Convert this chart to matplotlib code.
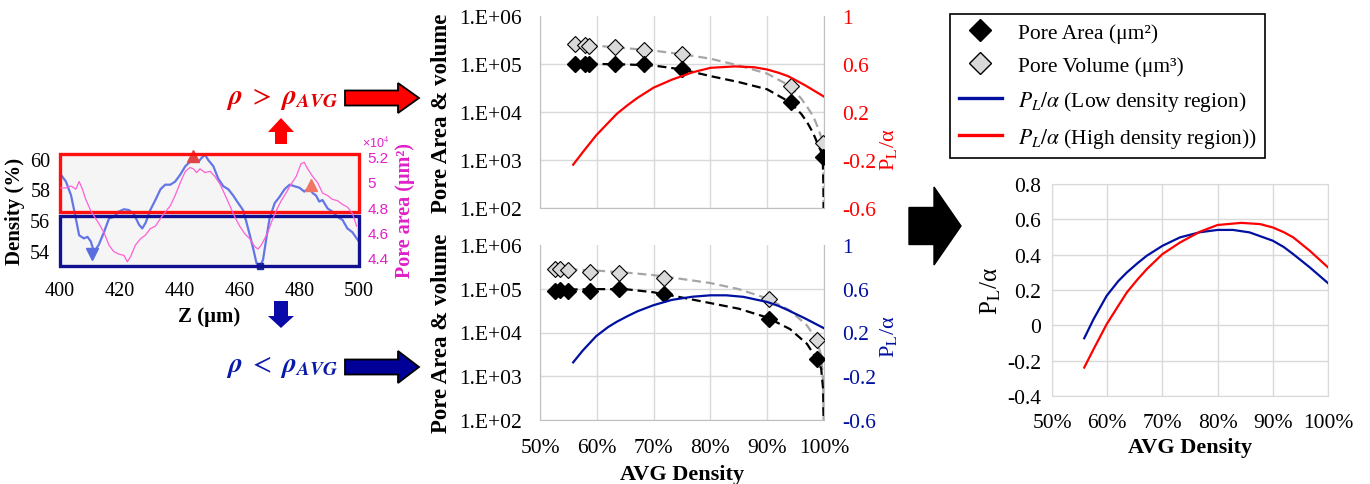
import numpy as np
import matplotlib
matplotlib.use('Agg')
import matplotlib.pyplot as plt
from matplotlib.lines import Line2D
from matplotlib.patches import Rectangle, Polygon
from matplotlib.ticker import NullLocator
from matplotlib.transforms import blended_transform_factory

plt.rc('font', family='Liberation Serif', size=15)
plt.rc('mathtext', fontset='stix')

# ---------------- data ----------------
# left panel: density (%) and pore area (x1e4 um^2) along Z (um)
density_trace = [(400.3, 58.95), (402, 58.5), (403.7, 57.6), (405.3, 56.1), (406.4, 55.0),
                 (408, 54.8), (409.2, 54.9), (410.3, 54.6), (411.4, 53.9), (413, 54.4),
                 (414.7, 55.2), (416.4, 56.1), (418, 56.2), (419.7, 56.55), (421.4, 56.7),
                 (423, 56.65), (424.7, 56.4), (426.4, 55.7), (427.5, 55.45), (428.6, 55.8),
                 (430.2, 56.65), (431.9, 57.3), (433.6, 58.0), (435.2, 58.3), (436.9, 58.3),
                 (438.5, 58.5), (440.2, 58.95), (441.9, 59.5), (443.5, 59.8), (445.2, 60.05),
                 (446.3, 59.8), (447.4, 60.05), (448.5, 60.25), (449.6, 59.9), (451.3, 59.5),
                 (452.9, 58.7), (454.6, 58.2), (456.3, 58.0), (457.9, 57.6), (459.6, 57.1),
                 (461.2, 56.65), (462.3, 55.9), (463.5, 55.0), (464.6, 54.15), (465.7, 53.2),
                 (466.8, 52.95), (467.9, 53.4), (469, 54.8), (470.1, 56.1), (471.8, 57.1),
                 (473.4, 57.5), (475.1, 58.0), (476.8, 58.3), (478.4, 58.2), (480.1, 58.1),
                 (481.7, 57.85), (483.4, 58.1), (484.5, 57.75), (485.6, 57.6), (486.7, 57.2),
                 (487.8, 57.3), (489.5, 56.75), (491.1, 56.55), (492.8, 56.2), (494.5, 56.0),
                 (496.1, 55.45), (497.8, 55.2), (499.2, 54.8), (500, 54.6)]
pore_trace = [(400.3, 4.95), (402, 4.95), (403.7, 4.965), (405.3, 4.94), (406.4, 5.0),
              (407.5, 4.94), (408.6, 4.86), (410.3, 4.77), (411.9, 4.71), (413, 4.67),
              (414.7, 4.60), (416.4, 4.50), (418, 4.45), (419.7, 4.43), (421.4, 4.42),
              (422.5, 4.37), (423.6, 4.41), (425.2, 4.50), (426.9, 4.55), (428.6, 4.58),
              (430.2, 4.63), (431.9, 4.65), (433.6, 4.71), (435.2, 4.76), (436.9, 4.81),
              (438.5, 4.89), (440.2, 4.99), (441.9, 5.08), (443.5, 5.11), (444.6, 5.10),
              (445.7, 5.07), (446.8, 5.10), (448.5, 5.07), (450.2, 5.08), (451.8, 5.04),
              (453.5, 4.98), (455.1, 4.90), (456.8, 4.81), (458.5, 4.72), (460.1, 4.65),
              (461.8, 4.59), (463.5, 4.55), (465.1, 4.49), (466.2, 4.47), (467.3, 4.50),
              (468.4, 4.55), (469.5, 4.60), (470.7, 4.68), (472.3, 4.77), (474, 4.85),
              (475.6, 4.91), (477.3, 4.98), (479, 5.04), (480.6, 5.14), (481.7, 5.15),
              (482.8, 5.10), (484.5, 5.04), (486.2, 4.99), (487.8, 4.91), (489.5, 4.89),
              (491.1, 4.86), (492.8, 4.85), (494.5, 4.82), (496.1, 4.80), (497.8, 4.75),
              (499.2, 4.65)]
peak_main = (444.5, 60.2)
peak_second = (484.0, 58.3)
valley_main = (410.8, 53.8)
valley_min = (466.8, 53.0)
high_band = (56.5, 60.3)   # rho > rho_avg box
low_band = (53.0, 56.25)   # rho < rho_avg box

# middle panels: AVG density vs pore area / volume
hi_x = [0.5616, 0.5795, 0.5855, 0.632, 0.683, 0.7494, 0.942, 0.9977]
hi_area = [98000, 100000, 100000, 100000, 100000, 77000, 16000, 1150]
hi_vol = [260000, 250000, 240000, 225000, 200000, 160000, 35000, 2300]
hi_fit_x = [0.5616, 0.60, 0.65, 0.70, 0.75, 0.80, 0.85, 0.90, 0.94, 0.96, 0.97, 0.98,
            0.985, 0.99, 0.995, 0.9977, 0.9990, 0.9996]
hi_area_fit = [1.0e5, 1.0e5, 9.8e4, 9.3e4, 7.7e4, 5.6e4, 4.2e4, 2.97e4, 1.6e4, 9.1e3,
               6.2e3, 3.8e3, 2.8e3, 2.0e3, 1.5e3, 1.15e3, 3e2, 50]
hi_vol_fit = [2.6e5, 2.4e5, 2.14e5, 1.9e5, 1.6e5, 1.29e5, 9.3e4, 6.3e4, 3.5e4, 1.9e4,
              1.3e4, 8.5e3, 6.3e3, 4.5e3, 3.0e3, 2.3e3, 9e2, 50]

lo_x = [0.5264, 0.5352, 0.5499, 0.588, 0.6397, 0.7189, 0.9032, 0.987]
lo_area = [90000, 95000, 90000, 90000, 98000, 76000, 20500, 2500]
lo_vol = [290000, 280000, 270000, 245000, 235000, 180000, 59000, 6900]
lo_fit_x = [0.5264, 0.60, 0.65, 0.70, 0.75, 0.80, 0.85, 0.90, 0.94, 0.97, 0.987, 0.995,
            0.9985, 0.9995]
lo_area_fit = [9.5e4, 9.8e4, 9.8e4, 8.3e4, 6.3e4, 4.7e4, 3.5e4, 2.2e4, 1.2e4, 5.5e3,
               2.5e3, 1.5e3, 5e2, 50]
lo_vol_fit = [2.9e5, 2.6e5, 2.35e5, 2.05e5, 1.67e5, 1.35e5, 9.8e4, 6.0e4, 3.2e4, 1.45e4,
              6.9e3, 3.0e3, 8e2, 50]

# P_L / alpha curves
pl_high_x = [0.5584, 0.5753, 0.599, 0.62, 0.6355, 0.655, 0.6717, 0.70, 0.732, 0.768, 0.80,
             0.843, 0.877, 0.90, 0.92, 0.937, 0.967, 1.0]
pl_high = [-0.239, -0.135, 0.006, 0.11, 0.186, 0.26, 0.318, 0.403, 0.469, 0.53, 0.568,
           0.58, 0.573, 0.554, 0.527, 0.498, 0.422, 0.328]
pl_low_x = [0.5584, 0.5753, 0.599, 0.62, 0.6355, 0.655, 0.6717, 0.70, 0.732, 0.768, 0.80,
            0.828, 0.858, 0.90, 0.92, 0.937, 0.967, 1.0]
pl_low = [-0.073, 0.035, 0.167, 0.25, 0.299, 0.352, 0.394, 0.45, 0.498, 0.527, 0.54,
          0.54, 0.526, 0.479, 0.443, 0.403, 0.328, 0.239]

log_ticks = [1e2, 1e3, 1e4, 1e5, 1e6]
log_labels = ['1.E+02', '1.E+03', '1.E+04', '1.E+05', '1.E+06']
pl_ticks = [-0.6, -0.2, 0.2, 0.6, 1.0]
pl_labels = ['-0.6', '-0.2', '0.2', '0.6', '1']
pct_ticks = [0.5, 0.6, 0.7, 0.8, 0.9, 1.0]
pct_labels = ['50%', '60%', '70%', '80%', '90%', '100%']
right_ticks = [-0.4, -0.2, 0.0, 0.2, 0.4, 0.6, 0.8]
right_labels = ['-0.4', '-0.2', '0', '0.2', '0.4', '0.6', '0.8']

RED = '#ff0000'
BLUE = '#0010a0'
MAGENTA = '#e020c8'
GRID = '#d9d9d9'

W, H = 1370, 485
fig = plt.figure(figsize=(W / 100, H / 100), dpi=100)


def px_axes(x0, y0, x1, y1):
    return fig.add_axes([x0 / W, 1 - y1 / H, (x1 - x0) / W, (y1 - y0) / H])


# ---------------- left panel ----------------
ax0 = px_axes(60, 155, 359, 267)
ax0.set_facecolor('#f5f5f5')
zd, dd = np.array(density_trace).T
ax0.plot(zd, dd, color='#5468e6', lw=1.6, alpha=0.9)
ax0.plot(*peak_main, marker='^', color='#e04545', ms=9, clip_on=False)
ax0.plot(*peak_second, marker='^', color='#f07565', ms=9)
ax0.plot(*valley_main, marker='v', color='#5a6ee0', ms=9, clip_on=False)
ax0.plot(*valley_min, marker='s', color='#1a2a99', ms=5, clip_on=False)
ax0.set_xlim(400, 500)
ax0.set_ylim(53.0, 60.3)
ax0.set_xticks([400, 420, 440, 460, 480, 500])
ax0.set_yticks([54, 56, 58, 60])
ax0.tick_params(length=0, labelsize=14.5)
ax0.tick_params(axis='x', pad=11)
ax0.tick_params(axis='y', pad=7)
for s in ax0.spines.values():
    s.set_visible(False)
ax0.set_xlabel('Z (μm)', fontweight='bold', fontsize=15, labelpad=4)
ax0.set_ylabel('Density (%)', fontweight='bold', fontsize=15, labelpad=4)

ax0r = ax0.twinx()
zp, pp = np.array(pore_trace).T
ax0r.plot(zp, pp, color='#ff5fd5', lw=0.9)
ax0r.set_ylim(4.337, 5.216)
ax0r.set_yticks([4.4, 4.6, 4.8, 5.0, 5.2])
ax0r.set_yticklabels(['4.4', '4.6', '4.8', '5', '5.2'], family='Liberation Sans',
                     fontsize=11, color=MAGENTA)
ax0r.tick_params(length=0, pad=6)
for s in ax0r.spines.values():
    s.set_visible(False)
ax0r.set_ylabel('Pore area (μm²)', fontweight='bold', fontsize=14.5, color=MAGENTA,
                labelpad=5)
ax0r.text(1.01, 1.04, r'×10$^{4}$', transform=ax0r.transAxes, color=MAGENTA,
          family='Liberation Sans', fontsize=9, va='bottom', ha='left')

bt = blended_transform_factory(ax0.transAxes, ax0.transData)
ax0r.add_patch(Rectangle((0, high_band[0]), 1, high_band[1] - high_band[0], transform=bt,
                         fill=False, edgecolor='#ff1010', lw=2.4, clip_on=False))
ax0r.add_patch(Rectangle((0, low_band[0]), 1, low_band[1] - low_band[0], transform=bt,
                         fill=False, edgecolor='#101090', lw=2.4, clip_on=False))


# ---------------- middle panels ----------------
def pore_panel(ax, x, area, vol, fit_x, area_fit, vol_fit, pl_x, pl, color, show_x):
    ax.set_yscale('log')
    ax.plot(fit_x, vol_fit, ls=(0, (4, 2.2)), color='#a6a6a6', lw=1.6, zorder=2)
    ax.plot(fit_x, area_fit, ls=(0, (4, 2.2)), color='black', lw=1.6, zorder=2)
    ax.plot(x, vol, ls='none', marker='D', ms=8, mfc='#d9d9d9', mec='black', mew=0.8,
            zorder=3)
    ax.plot(x, area, ls='none', marker='D', ms=8, mfc='black', mec='black', zorder=3)
    ax.set_xlim(0.5, 1.0)
    ax.set_ylim(1e2, 1e6)
    ax.yaxis.set_minor_locator(NullLocator())
    ax.set_yticks(log_ticks)
    ax.set_yticklabels(log_labels)
    ax.set_xticks(pct_ticks)
    if show_x:
        ax.set_xticklabels(pct_labels)
        ax.set_xlabel('AVG Density', fontweight='bold', fontsize=16, labelpad=5)
    else:
        ax.set_xticklabels([])
    ax.grid(True, color=GRID, lw=1)
    ax.yaxis.get_gridlines()[-1].set_visible(False)
    ax.tick_params(length=0, pad=13, labelsize=15.5)
    ax.spines['top'].set_visible(False)
    for k in ('left', 'bottom', 'right'):
        ax.spines[k].set_color('#bfbfbf')
    ax.set_ylabel('Pore Area & volume', fontweight='bold', fontsize=16.5, labelpad=5)

    axr = ax.twinx()
    axr.plot(pl_x, pl, color=color, lw=1.6)
    axr.set_ylim(-0.6, 1.0)
    axr.set_yticks(pl_ticks)
    axr.set_yticklabels(pl_labels, color=color)
    axr.tick_params(length=0, pad=13, labelsize=15.5)
    for s in axr.spines.values():
        s.set_visible(False)
    axr.set_ylabel('P$_{\\mathrm{L}}$/α', color=color, fontsize=16, labelpad=4)
    return axr


ax1 = px_axes(540, 17, 824, 209)
ax1r = pore_panel(ax1, hi_x, hi_area, hi_vol, hi_fit_x, hi_area_fit, hi_vol_fit,
                  pl_high_x, pl_high, RED, False)
ax1r.yaxis.set_label_coords(1.19, 0.31)

ax2 = px_axes(540, 246, 824, 421)
ax2r = pore_panel(ax2, lo_x, lo_area, lo_vol, lo_fit_x, lo_area_fit, lo_vol_fit,
                  pl_low_x, pl_low, BLUE, True)
ax2r.yaxis.set_label_coords(1.19, 0.48)

# ---------------- right panel ----------------
ax3 = px_axes(1052, 185, 1328, 397)
ax3.plot(pl_low_x, pl_low, color=BLUE, lw=1.6)
ax3.plot(pl_high_x, pl_high, color=RED, lw=1.6)
ax3.set_xlim(0.5, 1.0)
ax3.set_ylim(-0.4, 0.8)
ax3.set_xticks(pct_ticks)
ax3.set_xticklabels(pct_labels)
ax3.set_yticks(right_ticks)
ax3.set_yticklabels(right_labels)
ax3.grid(True, color=GRID, lw=1)
ax3.tick_params(length=0, labelsize=15.5)
ax3.tick_params(axis='x', pad=12)
ax3.tick_params(axis='y', pad=8)
for s in ax3.spines.values():
    s.set_color(GRID)
ax3.set_xlabel('AVG Density', fontweight='bold', fontsize=16, labelpad=4)
ax3.set_ylabel('P$_{\\mathrm{L}}$/α', fontsize=18, labelpad=3)

# ---------------- legend ----------------
handles = [
    Line2D([], [], ls='none', marker='D', ms=11, mfc='black', mec='black'),
    Line2D([], [], ls='none', marker='D', ms=11, mfc='#d9d9d9', mec='black', mew=1),
    Line2D([], [], color=BLUE, lw=2.4),
    Line2D([], [], color=RED, lw=2.4),
]
labels = ['Pore Area (μm²)', 'Pore Volume (μm³)', r'$P_L/\alpha$ (Low density region)',
          r'$P_L/\alpha$ (High density region))']
fig.legend(handles, labels, loc='upper left', bbox_to_anchor=(950 / W, 1 - 15 / H),
           frameon=True, fancybox=False, edgecolor='black', framealpha=1,
           borderpad=0.4, labelspacing=0.6, handlelength=2.0, handletextpad=0.75,
           borderaxespad=0, fontsize=15.5).get_frame().set_linewidth(1.2)

# ---------------- arrows and annotations ----------------
ov = fig.add_axes([0, 0, 1, 1], zorder=5)
ov.set_xlim(0, W)
ov.set_ylim(H, 0)
ov.axis('off')
ov.patch.set_alpha(0)


def block_arrow(x0, x1, xh, yc, bh, hh):
    return [(x0, yc - bh), (xh, yc - bh), (xh, yc - hh), (x1, yc), (xh, yc + hh),
            (xh, yc + bh), (x0, yc + bh)]


ov.add_patch(Polygon(block_arrow(345, 419, 398, 99, 7.5, 15), closed=True,
                     facecolor='#ff0000', edgecolor='black', lw=1.3))
ov.add_patch(Polygon(block_arrow(345, 419, 398, 368, 7.5, 16), closed=True,
                     facecolor='#000099', edgecolor='black', lw=1.3))
ov.add_patch(Polygon(block_arrow(909, 961, 934, 227, 18.5, 39), closed=True,
                     facecolor='black', edgecolor='black', lw=1))
ov.add_patch(Polygon([(275, 145), (287, 145), (287, 133), (294, 133), (281, 119),
                      (268, 133), (275, 133)], closed=True, facecolor='#ff0000', lw=0))
ov.add_patch(Polygon([(274, 302), (288, 302), (288, 317), (294, 317), (281, 329),
                      (268, 317), (274, 317)], closed=True, facecolor='#0a0aa8', lw=0))
ov.text(338, 99, r'$\mathbfit{\rho}\ >\ \mathbfit{\rho}_{\mathbfit{AVG}}$', color='#e00000',
        fontsize=20, ha='right', va='center')
ov.text(338, 367, r'$\mathbfit{\rho}\ <\ \mathbfit{\rho}_{\mathbfit{AVG}}$', color='#0a1aa8',
        fontsize=20, ha='right', va='center')

fig.savefig('out.png', dpi=100)
